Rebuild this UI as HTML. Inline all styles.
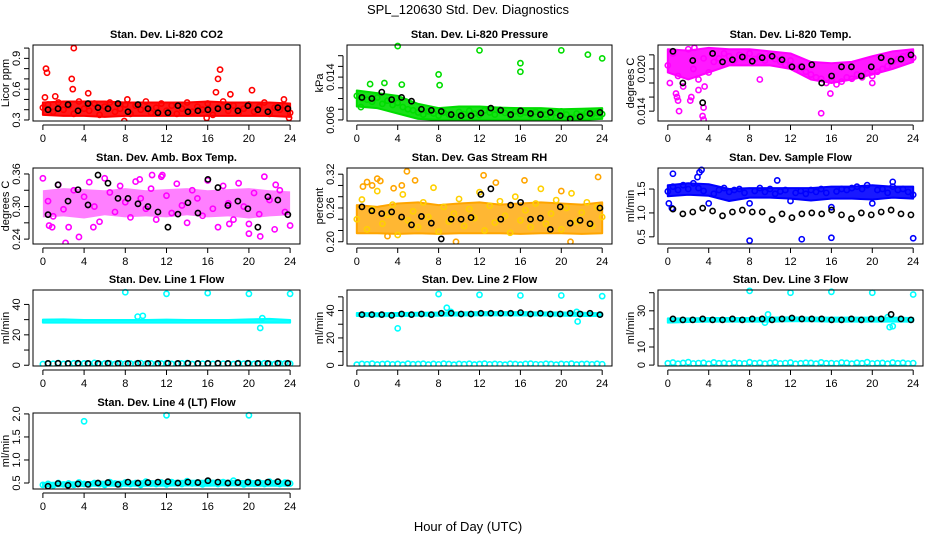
<!DOCTYPE html>
<html><head><meta charset="utf-8"><style>
html,body{margin:0;padding:0;background:#fff;}
svg{display:block;font-family:"Liberation Sans",Arial,sans-serif;}
</style></head><body>
<svg id="fig" width="936" height="540" viewBox="0 0 936 540">
<text x="468" y="14" text-anchor="middle" font-size="13">SPL_120630  Std. Dev. Diagnostics</text>
<text x="468" y="531" text-anchor="middle" font-size="13">Hour of Day (UTC)</text>
</svg>
<script>
// ---- data ----
const xTicks=[0,4,8,12,16,20,24];
// CO2
const co2Lo=[0.35,0.34,0.34,0.33,0.34,0.34,0.34,0.34,0.34,0.34,0.34,0.34,0.33];
const co2Hi=[0.47,0.48,0.48,0.48,0.47,0.47,0.47,0.47,0.48,0.47,0.47,0.47,0.46];
const co2Pts=[0.42,0.45,0.38,0.47,0.40,0.44,0.36,0.48,0.41,0.39,0.46,0.35,0.43,0.47,0.38,0.41,0.45,0.36,0.44,0.40,0.48,0.37,0.42,0.46,0.39,0.44,0.36,0.41,0.47,0.38,0.43,0.40,0.46,0.35,0.42,0.48,0.39,0.44,0.37,0.41,0.45,0.38,0.43,0.47,0.36,0.42,0.40,0.44,0.37];
const co2OutX=[0.2,0.3,0.4,1.2,2.8,2.9,3.0,4.4,8.2,15.9,16.8,17.0,17.2,18.2,20.3,23.4,23.9,7.9];
const co2OutY=[0.52,0.80,0.76,0.53,0.70,0.60,1.00,0.56,0.50,0.32,0.57,0.70,0.79,0.55,0.59,0.50,0.32,0.29];
const co2Blk=[0.40,0.41,0.45,0.39,0.46,0.42,0.41,0.46,0.38,0.45,0.41,0.37,0.37,0.44,0.38,0.39,0.40,0.41,0.43,0.39,0.44,0.40,0.38,0.42,0.41];
// Pressure
const prLo=[0.0085,0.0082,0.0072,0.0062,0.0060,0.0060,0.0060,0.0060,0.0060,0.0060,0.0060,0.0060,0.0062];
const prHi=[0.0115,0.0110,0.0105,0.0090,0.0082,0.0085,0.0085,0.0083,0.0082,0.0082,0.0080,0.0081,0.0082];
const prPts=[0.0105,0.0100,0.0098,0.0094,0.0102,0.0090,0.0096,0.0088,0.0092,0.0084,0.0080,0.0078,0.0074,0.0070,0.0076,0.0072,0.0068,0.0074,0.0070,0.0066,0.0075,0.0071,0.0077,0.0072,0.0069,0.0078,0.0074,0.0070,0.0079,0.0073,0.0068,0.0076,0.0071,0.0074,0.0069,0.0075,0.0072,0.0070,0.0066,0.0073,0.0076,0.0070,0.0064,0.0072,0.0068,0.0074,0.0070,0.0073,0.0071];
const prOutX=[4.0,8.0,8.1,12.0,16.0,16.0,20.0,22.6,24.0,1.3,2.7,4.4,0.4];
const prOutY=[0.0198,0.0145,0.0125,0.0190,0.0166,0.0150,0.0190,0.0182,0.0175,0.0127,0.0129,0.0126,0.0084];
const prBlk=[0.0102,0.0100,0.0112,0.0098,0.0102,0.0095,0.0080,0.0078,0.0076,0.0070,0.0068,0.0068,0.0073,0.0082,0.0078,0.0070,0.0077,0.0072,0.0070,0.0074,0.0068,0.0062,0.0066,0.0072,0.0074];
// Temp
const tpLo=[0.0195,0.0185,0.0195,0.0205,0.0205,0.0205,0.0200,0.0185,0.0180,0.0185,0.0192,0.0200,0.0210];
const tpHi=[0.0228,0.0226,0.0230,0.0228,0.0228,0.0225,0.0222,0.0210,0.0208,0.0210,0.0218,0.0225,0.0228];
const tpPts=[0.0205,0.0222,0.0190,0.0175,0.0228,0.0200,0.0185,0.0215,0.0195,0.0210,0.0215,0.0222,0.0218,0.0212,0.0220,0.0216,0.0222,0.0214,0.0218,0.0212,0.0220,0.0214,0.0210,0.0206,0.0212,0.0200,0.0204,0.0196,0.0192,0.0188,0.0186,0.0180,0.0184,0.0178,0.0182,0.0188,0.0186,0.0192,0.0188,0.0194,0.0190,0.0196,0.0200,0.0204,0.0210,0.0214,0.0218,0.0220,0.0216];
const tpOutX=[0.2,0.8,0.9,1.0,1.1,2.2,2.3,3.4,3.5,3.5,3.6,15.0,15.9,20.0,9.0,2.6,3.0];
const tpOutY=[0.0180,0.0165,0.0160,0.0155,0.0140,0.0155,0.0160,0.0133,0.0128,0.0145,0.0175,0.0137,0.0165,0.0180,0.0185,0.0230,0.0170];
const tpBlk=[0.0225,0.0180,0.0212,0.0152,0.0222,0.0210,0.0213,0.0217,0.0211,0.0216,0.0218,0.0213,0.0203,0.0203,0.0206,0.0180,0.0190,0.0203,0.0203,0.0190,0.0203,0.0216,0.0211,0.0214,0.0220];
// Amb box temp
const abLo=[0.280,0.282,0.278,0.284,0.280,0.282,0.280,0.284,0.280,0.282,0.278,0.282,0.284];
const abHi=[0.330,0.334,0.332,0.330,0.334,0.330,0.332,0.334,0.330,0.332,0.334,0.330,0.328];
const abPts=[0.352,0.310,0.282,0.340,0.295,0.262,0.330,0.244,0.318,0.345,0.300,0.272,0.352,0.326,0.290,0.338,0.308,0.280,0.346,0.315,0.296,0.333,0.276,0.355,0.320,0.288,0.342,0.302,0.270,0.330,0.315,0.283,0.348,0.296,0.262,0.338,0.306,0.276,0.343,0.300,0.268,0.325,0.286,0.355,0.312,0.258,0.330,0.290,0.265];
const abOutX=[0.6,0.9,2.2,4.9,9.4,10.6,11.6,18.1,20.0,21.1,22.6];
const abOutY=[0.265,0.262,0.233,0.262,0.350,0.358,0.358,0.268,0.250,0.245,0.340];
const abBlk=[0.285,0.340,0.310,0.331,0.303,0.358,0.343,0.315,0.315,0.305,0.300,0.290,0.262,0.286,0.307,0.288,0.350,0.335,0.302,0.310,0.296,0.262,0.318,0.312,0.285];
// RH
const rhLo=[0.215,0.215,0.214,0.215,0.214,0.215,0.215,0.215,0.214,0.215,0.215,0.214,0.215];
const rhHi=[0.265,0.262,0.268,0.270,0.265,0.268,0.270,0.266,0.268,0.270,0.268,0.266,0.270];
const rhPts=[0.240,0.275,0.222,0.258,0.290,0.232,0.248,0.266,0.212,0.284,0.238,0.254,0.226,0.270,0.244,0.296,0.218,0.262,0.236,0.250,0.276,0.228,0.258,0.242,0.288,0.220,0.264,0.234,0.272,0.246,0.216,0.280,0.238,0.256,0.226,0.268,0.294,0.232,0.250,0.274,0.222,0.260,0.286,0.236,0.252,0.270,0.228,0.262,0.244];
const rhOutX=[0.6,1.0,1.5,2.0,2.3,3.6,4.4,4.9,5.7,9.7,12.4,13.6,16.4,20.0,20.9,23.6,3.0];
const rhOutY=[0.298,0.306,0.300,0.312,0.308,0.295,0.300,0.325,0.309,0.200,0.318,0.305,0.309,0.290,0.200,0.315,0.210];
const rhBlk=[0.262,0.255,0.250,0.253,0.244,0.230,0.245,0.233,0.205,0.240,0.240,0.243,0.284,0.294,0.240,0.265,0.270,0.240,0.242,0.222,0.262,0.233,0.238,0.232,0.260];
// Sample flow
const sfLo=[1.35,1.38,1.36,1.25,1.32,1.32,1.30,1.26,1.30,1.30,1.28,1.32,1.30];
const sfHi=[1.58,1.62,1.60,1.50,1.52,1.52,1.52,1.52,1.55,1.55,1.58,1.55,1.55];
const sfPts=[1.45,1.55,1.48,1.58,1.50,1.62,1.52,1.46,1.20,1.40,1.48,1.52,1.44,1.48,1.50,1.42,1.20,1.46,1.52,1.44,1.50,1.40,1.45,1.48,1.25,1.42,1.46,1.40,1.48,1.44,1.50,1.42,1.12,1.45,1.50,1.48,1.52,1.55,1.50,1.58,1.20,1.48,1.50,1.42,1.55,1.48,1.50,1.44,1.38];
const sfOutX=[0.5,2.9,3.1,3.3,8.0,13.1,16.0,24.0,10.7,0.1,0.4,22.0];
const sfOutY=[1.82,1.75,1.85,1.90,0.42,0.45,0.48,0.47,1.68,1.20,1.10,1.65];
const sfBlk=[1.08,0.98,1.02,1.10,1.04,0.94,1.02,1.06,1.02,1.02,0.86,0.98,0.90,0.98,1.00,0.98,1.06,0.96,0.88,1.00,0.96,1.02,1.06,0.98,0.96];
// Line 1
const l1Lo=[28.0,28.0,28.0,28.0,28.0,28.0,28.0,28.0,28.0,28.0,28.0,28.0,28.0];
const l1Hi=[30.0,30.2,29.8,29.8,29.8,29.8,30.0,29.8,29.8,29.8,30.2,30.5,29.8];
const l1Pts=[0.8,1.2,1.0,1.4,0.9,1.1,1.3,0.8,1.2,1.0,1.5,0.9,1.1,1.2,0.8,1.3,1.0,1.1,0.9,1.4,1.0,1.2,0.8,1.1,1.3,0.9,1.0,1.2,1.4,0.8,1.1,1.0,1.3,0.9,1.2,1.0,1.1,0.8,1.4,1.0,1.2,0.9,1.1,1.3,1.0,0.8,1.2,1.1,1.0];
const l1OutX=[8.0,12.0,16.0,20.0,24.0,9.2,9.7,21.1,21.3];
const l1OutY=[48,47,47.5,47,47,32,32.5,24.5,31];
const l1Blk=[1.2,1.3,1.2,1.3,1.2,1.2,1.3,1.2,1.2,1.3,1.2,1.2,1.3,1.2,1.3,1.2,1.2,1.3,1.2,1.2,1.3,1.2,1.2,1.3,1.2];
// Line 2
const l2Lo=[36.0,35.8,36.0,36.2,36.2,36.4,36.5,36.5,36.4,36.4,36.2,36.0,36.0];
const l2Hi=[38.2,38.0,38.2,38.4,38.5,38.6,38.8,38.8,38.8,38.6,38.6,38.4,38.0];
const l2Pts=[0.5,1.0,0.8,1.2,0.6,0.9,1.1,0.7,1.0,0.5,1.2,0.8,0.9,1.1,0.6,1.0,0.7,1.2,0.9,0.5,1.0,0.8,1.1,0.6,0.9,1.2,0.7,1.0,0.8,0.5,1.1,0.9,0.6,1.0,1.2,0.8,0.7,1.1,0.9,0.5,1.0,0.8,1.2,0.6,0.9,1.0,0.7,1.1,0.8];
const l2OutX=[4.0,8.0,8.8,12.0,16.0,20.0,24.0,21.5,21.6,9.2];
const l2OutY=[27,52,42,51.5,51,51,50.5,39,32,39];
const l2Blk=[37,37,37,36.5,37.5,37,37.5,37,38,38,37.5,37.5,38,38,38,38,38.5,37.5,38,37.5,37.5,38,37.5,38,37];
// Line 3
const l3Lo=[23.5,23.8,24.0,24.0,24.0,24.0,24.2,24.2,24.0,24.0,24.0,24.0,24.0];
const l3Hi=[25.8,25.8,26.0,26.0,26.0,26.2,26.4,26.2,26.2,26.2,26.2,26.2,26.0];
const l3Pts=[1.0,1.4,0.8,1.2,1.6,0.9,1.1,1.3,0.7,1.5,1.0,1.2,0.8,1.4,1.1,0.9,1.6,1.0,1.3,0.8,1.2,1.5,0.9,1.1,1.4,0.7,1.0,1.3,1.2,0.8,1.5,1.0,1.1,0.9,1.4,1.2,0.8,1.3,1.0,1.6,0.9,1.1,1.2,0.8,1.4,1.0,1.3,0.9,1.1];
const l3OutX=[8.0,12.0,16.0,20.0,24.0,9.8,21.7,22.0,21.5,9.5];
const l3OutY=[41,40,40.5,40,39,28,21,21.5,26.5,23.5];
const l3Blk=[25.5,25,25,25.5,25,25,25.5,25,25.5,25.5,25,25.5,26,25.5,25.5,25.5,25,25,25.5,25,25.5,25.5,28,25.5,25];
// Line 4 (LT)
const l4Lo=[0.43,0.43,0.44,0.44,0.44,0.44,0.44,0.45,0.44,0.45,0.44,0.44,0.44];
const l4Hi=[0.50,0.51,0.52,0.53,0.53,0.54,0.54,0.55,0.55,0.55,0.54,0.54,0.53];
const l4Pts=[0.46,0.48,0.45,0.50,0.47,0.49,0.46,0.51,0.48,0.47,0.50,0.48,0.46,0.52,0.49,0.47,0.51,0.48,0.50,0.46,0.53,0.49,0.48,0.51,0.47,0.52,0.50,0.48,0.54,0.49,0.51,0.47,0.53,0.50,0.48,0.52,0.49,0.55,0.50,0.47,0.52,0.49,0.51,0.48,0.53,0.50,0.48,0.51,0.49];
const l4OutX=[4.0,12.0,20.0];
const l4OutY=[1.84,1.97,1.97];
const l4Blk=[0.43,0.49,0.45,0.48,0.47,0.50,0.51,0.47,0.52,0.50,0.51,0.52,0.53,0.50,0.52,0.51,0.55,0.52,0.50,0.51,0.52,0.51,0.52,0.53,0.50];

// ---- layout ----
const colX=[[33,300],[347,612],[658,923]];
const rowY=[[45,121],[168,244],[290,366],[413,489]];
const panels=[
 {name:'co2',title:'Stan. Dev. Li-820 CO2',ylab:'Licor ppm',c:0,r:0,ymin:0.29,ymax:1.03,col:'#ff0000',ticks:[0.3,0.4,0.5,0.6,0.7,0.8,0.9,1.0],labs:['0.3','','','0.6','','','0.9',''],lo:co2Lo,hi:co2Hi,pts:co2Pts,ox:co2OutX,oy:co2OutY,blk:co2Blk},
 {name:'pressure',title:'Stan. Dev. Li-820 Pressure',ylab:'kPa',c:1,r:0,ymin:0.0058,ymax:0.0200,col:'#00dd00',ticks:[0.006,0.008,0.010,0.012,0.014,0.016,0.018],labs:['0.006','','','','0.014','',''],lo:prLo,hi:prHi,pts:prPts,ox:prOutX,oy:prOutY,blk:prBlk},
 {name:'temp',title:'Stan. Dev. Li-820 Temp.',ylab:'degrees C',c:2,r:0,ymin:0.0126,ymax:0.0234,col:'#ff00ff',ticks:[0.014,0.016,0.018,0.020,0.022],labs:['0.014','','','0.020',''],lo:tpLo,hi:tpHi,pts:tpPts,ox:tpOutX,oy:tpOutY,blk:tpBlk},
 {name:'amb-box-temp',title:'Stan. Dev. Amb. Box Temp.',ylab:'degrees C',c:0,r:1,ymin:0.231,ymax:0.371,col:'#ff00ff',ticks:[0.24,0.27,0.30,0.33,0.36],labs:['0.24','','0.30','','0.36'],lo:abLo,hi:abHi,pts:abPts,ox:abOutX,oy:abOutY,blk:abBlk,bandOp:0.5,bandStroke:0},
 {name:'gas-rh',title:'Stan. Dev. Gas Stream RH',ylab:'percent',c:1,r:1,ymin:0.196,ymax:0.331,col:'#ffa500',ticks:[0.20,0.22,0.24,0.26,0.28,0.30,0.32],labs:['0.20','','','0.26','','','0.32'],lo:rhLo,hi:rhHi,pts:rhPts,ox:rhOutX,oy:rhOutY,blk:rhBlk,bandOp:0.8,ptCol:'#ffd000'},
 {name:'sample-flow',title:'Stan. Dev. Sample Flow',ylab:'ml/min',c:2,r:1,ymin:0.35,ymax:1.94,col:'#0000ff',ticks:[0.5,1.0,1.5],labs:['0.5','1.0','1.5'],lo:sfLo,hi:sfHi,pts:sfPts,ox:sfOutX,oy:sfOutY,blk:sfBlk},
 {name:'line1-flow',title:'Stan. Dev. Line 1 Flow',ylab:'ml/min',c:0,r:2,ymin:-0.5,ymax:49.5,col:'#00ffff',ticks:[0,10,20,30,40],labs:['0','','20','','40'],lo:l1Lo,hi:l1Hi,pts:l1Pts,ox:l1OutX,oy:l1OutY,blk:l1Blk},
 {name:'line2-flow',title:'Stan. Dev. Line 2 Flow',ylab:'ml/min',c:1,r:2,ymin:-0.5,ymax:55,col:'#00ffff',ticks:[0,10,20,30,40,50],labs:['0','','20','','40',''],lo:l2Lo,hi:l2Hi,pts:l2Pts,ox:l2OutX,oy:l2OutY,blk:l2Blk},
 {name:'line3-flow',title:'Stan. Dev. Line 3 Flow',ylab:'ml/min',c:2,r:2,ymin:-0.5,ymax:41.5,col:'#00ffff',ticks:[0,10,20,30,40],labs:['0','10','','30',''],lo:l3Lo,hi:l3Hi,pts:l3Pts,ox:l3OutX,oy:l3OutY,blk:l3Blk},
 {name:'line4-flow',title:'Stan. Dev. Line 4 (LT) Flow',ylab:'ml/min',c:0,r:3,ymin:0.37,ymax:2.02,col:'#00ffff',ticks:[0.5,1.0,1.5,2.0],labs:['0.5','1.0','1.5','2.0'],lo:l4Lo,hi:l4Hi,pts:l4Pts,ox:l4OutX,oy:l4OutY,blk:l4Blk}
];
const NS='http://www.w3.org/2000/svg';
const fig=document.getElementById('fig');
function mk(tag,attrs,parent){const e=document.createElementNS(NS,tag);for(const k in attrs)e.setAttribute(k,attrs[k]);parent.appendChild(e);return e;}
panels.forEach(p=>{
 const [x0,x1]=colX[p.c],[y0,y1]=rowY[p.r];
 const sx=v=>x0+(v+0.96)/25.92*(x1-x0);
 const sy=v=>y1-(v-p.ymin)/(p.ymax-p.ymin)*(y1-y0);
 const g=mk('g',{},fig);
 
 
 const clipId='clip-'+p.name;
 const cp=mk('clipPath',{id:clipId},g);mk('rect',{x:x0,y:y0-3,width:x1-x0,height:y1-y0+3},cp);
 const t=mk('text',{x:(x0+x1)/2,y:y0-7,'text-anchor':'middle','font-size':11,'font-weight':'bold'},g);
 t.textContent=p.title;
 
 
 const data=mk('g',{'clip-path':'url(#'+clipId+')'},g);
 
 
 let top=[],bot=[];
 p.lo.forEach((v,i)=>{const h=i*2;bot.push(sx(h)+','+sy(v));top.unshift(sx(h)+','+sy(p.hi[i]));});
 const sw=(p.bandStroke===undefined)?2:p.bandStroke;
 const band=mk('polygon',{points:bot.concat(top).join(' '),fill:p.col,'fill-opacity':p.bandOp||0.9,stroke:sw?p.col:'none','stroke-width':sw,'stroke-linejoin':'round'},data);
 
 
 const pc=p.ptCol||p.col;
 p.pts.forEach((v,i)=>{const c=mk('circle',{cx:sx(i*0.5),cy:sy(v),r:2.6,fill:'none',stroke:pc,'stroke-width':1.6},data);
  
  });
 p.ox.forEach((x,i)=>{const c=mk('circle',{cx:sx(x),cy:sy(p.oy[i]),r:2.6,fill:'none',stroke:p.col,'stroke-width':1.6},data);
  
  });
 p.blk.forEach((v,i)=>{const c=mk('circle',{cx:sx(0.5+i*0.97),cy:sy(v),r:2.6,fill:'none',stroke:'#000','stroke-width':1.6},data);
  
  });
 const b=mk('rect',{x:x0,y:y0,width:x1-x0,height:y1-y0,fill:'none',stroke:'#000','stroke-width':1},g);
 
 
 const xa=mk('g',{},g);
 
 
 mk('line',{x1:sx(0),x2:sx(24),y1:y1+4,y2:y1+4,stroke:'#000'},xa);
 xTicks.forEach(v=>{mk('line',{x1:sx(v),x2:sx(v),y1:y1+4,y2:y1+9,stroke:'#000'},xa);
  const tl=mk('text',{x:sx(v),y:y1+21,'text-anchor':'middle','font-size':11},xa);tl.textContent=v;});
 const ya=mk('g',{},g);
 
 
 const ax=x0-4;
 mk('line',{x1:ax,x2:ax,y1:sy(p.ticks[0]),y2:sy(p.ticks[p.ticks.length-1]),stroke:'#000'},ya);
 p.ticks.forEach((v,i)=>{const y=sy(v);mk('line',{x1:ax,x2:ax-5,y1:y,y2:y,stroke:'#000'},ya);
  if(p.labs[i]){const tl=mk('text',{x:ax-9,y:y,'text-anchor':'middle','font-size':11,transform:'rotate(-90 '+(ax-9)+' '+y+')'},ya);tl.textContent=p.labs[i];}});
 const yl=mk('text',{x:x0-24,y:(y0+y1)/2,'text-anchor':'middle','font-size':11,transform:'rotate(-90 '+(x0-24)+' '+((y0+y1)/2)+')'},g);
 yl.textContent=p.ylab;
 
 
});
</script>
</body></html>
